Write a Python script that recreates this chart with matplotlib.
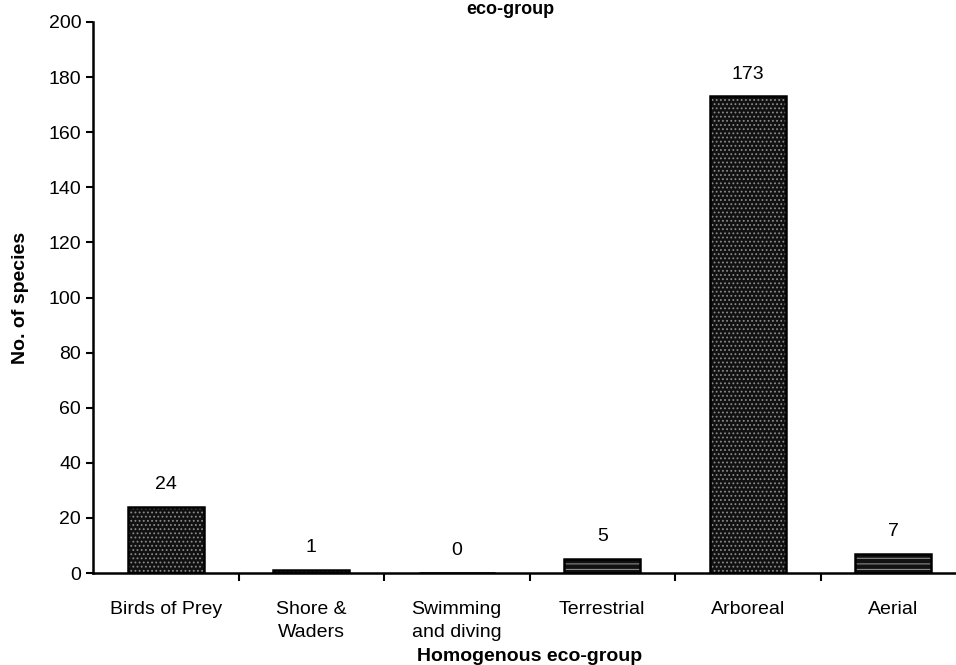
import numpy as np
import matplotlib.pyplot as plt

plt.rcParams['font.family'] = ['Liberation Sans', 'DejaVu Sans']
plt.rcParams['hatch.linewidth'] = 0.8

# Species count per eco-group
groups = ["Birds of Prey", "Shore &\nWaders", "Swimming\nand diving",
          "Terrestrial", "Arboreal", "Aerial"]
species = [24, 1, 0, 5, 173, 7]
hatches = ["....", "....", "....", "---", "....", "---"]

fig = plt.figure(figsize=(9.56, 6.65), dpi=100)
ax = fig.add_axes([93 / 956, 92 / 665, 873 / 956, 551 / 665])

x = np.arange(len(groups))
# dark fill with a light speckle, then a black outline on top
ax.bar(x, species, width=0.52, color="#111111", linewidth=0, zorder=2)
for xi, v, h in zip(x, species, hatches):
    ax.bar(xi, v, width=0.52, facecolor="none", edgecolor="#8a8a8a",
           hatch=h, linewidth=0, zorder=3)
ax.bar(x, species, width=0.52, facecolor="none", edgecolor="black",
       linewidth=1.8, zorder=4)

for xi, v in zip(x, species):
    ax.text(xi, v + 5, str(v), ha="center", va="bottom", fontsize=14)

ax.set_xlim(-0.5, 5.5)
ax.set_ylim(0, 200)
ax.set_yticks(range(0, 201, 20))
ax.set_xticks(x)
ax.set_xticklabels(groups, fontsize=14, va="top", linespacing=1.45)
ax.tick_params(axis="x", length=0, pad=20)
ax.set_xticks(np.arange(0.5, 5, 1.0), minor=True)
ax.tick_params(axis="x", which="minor", length=6, width=1.5, direction="out")
ax.tick_params(axis="y", labelsize=14, length=5, width=1.5, direction="out")

for side in ["top", "right"]:
    ax.spines[side].set_visible(False)
for side in ["left", "bottom"]:
    ax.spines[side].set_linewidth(1.8)

ax.set_ylabel("No. of species", fontsize=14, fontweight="bold", labelpad=14)
ax.set_xlabel("Homogenous eco-group", fontsize=14, fontweight="bold", labelpad=5)

fig.text(510 / 956, 1 - 10 / 665, "eco-group", ha="center", va="center",
         fontsize=13, fontweight="bold")

fig.savefig("out.png", dpi=100)
